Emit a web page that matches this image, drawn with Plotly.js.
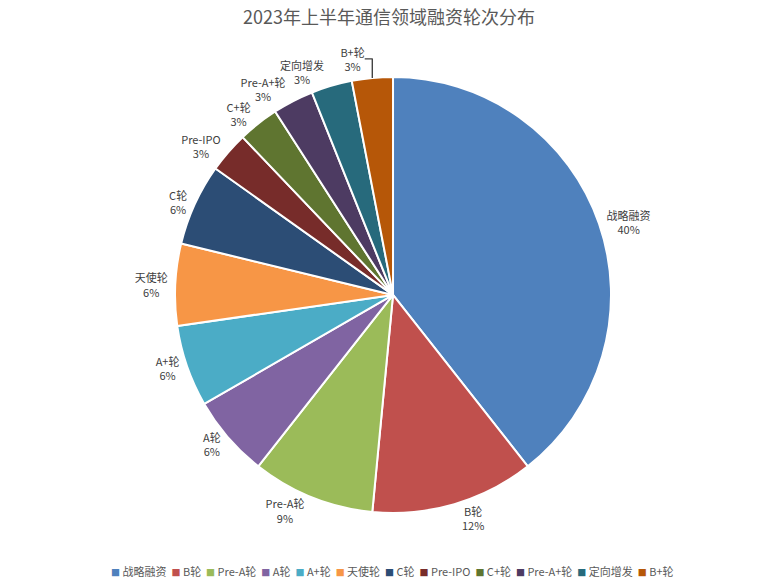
<!DOCTYPE html>
<html>
<head>
<meta charset="utf-8">
<script src="https://cdn.plot.ly/plotly-3.0.1.min.js"></script>
<style>
  html, body { margin: 0; padding: 0; background: #fff; }
  #pie { width: 778px; height: 585px; }
</style>
</head>
<body>
<div id="pie"></div>
<script>
// 融资轮次 (counts) and the percentages printed on the chart
let rounds = ['战略融资', 'B轮', 'Pre-A轮', 'A轮', 'A+轮', '天使轮', 'C轮', 'Pre-IPO', 'C+轮', 'Pre-A+轮', '定向增发', 'B+轮'];
let counts = [13, 4, 3, 2, 2, 2, 2, 1, 1, 1, 1, 1];
let pctText = ['40%', '12%', '9%', '6%', '6%', '6%', '6%', '3%', '3%', '3%', '3%', '3%'];

let colors = ['#4f81bd', '#c0504d', '#9bbb59', '#8064a2', '#4bacc6', '#f79646',
              '#2c4d75', '#772c2a', '#5f7530', '#4d3b62', '#276a7c', '#b65708'];

let labels = rounds.map((r, i) => r + '<br>' + pctText[i]);
// labels split over two stacked pies so plotly doesn't scoot the small top ones into the title
let labelsEven = labels.map((t, i) => i % 2 === 0 ? t : '');
let labelsOdd = labels.map((t, i) => i % 2 === 1 ? t : '');

// one-row legend as rich text (plotly's own legend can't fit 12 items in one row here)
let nb = '\u00a0';
let legendText = rounds.map((r, i) =>
  '<span style="font-size:9px;color:' + colors[i] + '">■</span>' + nb + r
).join(nb + nb);

let pieDomain = { x: [0.2177, 0.7929], y: [0.116, 0.931] };

let trace = {
  type: 'pie',
  labels: rounds,
  values: counts,
  text: labelsEven,
  textinfo: 'text',
  textposition: 'outside',
  hoverinfo: 'label+value+percent',
  sort: false,
  direction: 'clockwise',
  rotation: 0,
  marker: {
    colors: colors,
    line: { color: '#ffffff', width: 2 }
  },
  outsidetextfont: { size: 11, color: '#404040' },
  domain: pieDomain
};

let traceOdd = {
  type: 'pie',
  labels: rounds,
  values: counts,
  text: labelsOdd,
  textinfo: 'text',
  textposition: 'outside',
  hoverinfo: 'skip',
  sort: false,
  direction: 'clockwise',
  rotation: 0,
  marker: {
    colors: rounds.map(() => 'rgba(0,0,0,0)'),
    line: { width: 0 }
  },
  outsidetextfont: { size: 11, color: '#404040' },
  domain: pieDomain
};

let layout = {
  title: {
    text: '2023年上半年通信领域融资轮次分布',
    font: { size: 18, color: '#595959' },
    x: 0.5,
    y: 0.98
  },
  font: { family: '"Noto Sans CJK SC", "Open Sans", sans-serif', color: '#595959' },
  showlegend: false,
  annotations: [{
    text: legendText,
    xref: 'paper', yref: 'paper',
    x: 0.505, y: 0.0075,
    xanchor: 'center', yanchor: 'middle',
    showarrow: false,
    font: { size: 11, color: '#595959' }
  }],
  margin: { l: 10, r: 10, t: 40, b: 10 },
  paper_bgcolor: '#ffffff',
  width: 778,
  height: 585
};

Plotly.newPlot('pie', [trace, traceOdd], layout, { displayModeBar: false });
</script>
</body>
</html>
